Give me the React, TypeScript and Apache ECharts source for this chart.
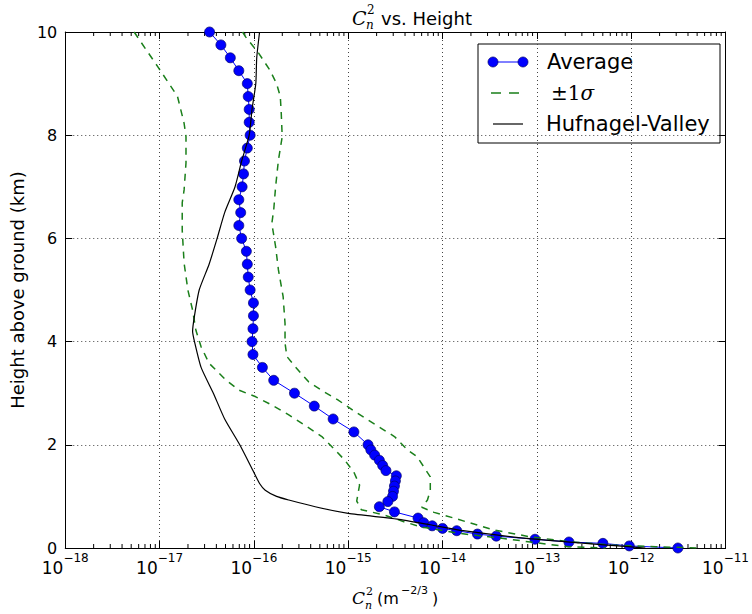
import React, { useEffect, useRef } from "react";
import * as echarts from "echarts";

// ---- Data (heights in km, values as log10 of Cn^2 in m^-2/3) ----
const avgHeight = [10, 9.75, 9.5, 9.25, 9.0, 8.75, 8.5, 8.25, 8.0, 7.75, 7.5, 7.25, 7.0, 6.75, 6.5, 6.25, 6.0, 5.75, 5.5, 5.25, 5.0, 4.75, 4.5, 4.25, 4.0, 3.75, 3.5, 3.25, 3.0, 2.75, 2.5, 2.25, 2.0, 1.9, 1.8, 1.7, 1.6, 1.5, 1.4, 1.3, 1.2, 1.1, 1.0, 0.9, 0.8, 0.7, 0.58, 0.49, 0.43, 0.38, 0.335, 0.27, 0.23, 0.17, 0.116, 0.09, 0.04, 0.0];
const avgLog = [-16.47, -16.35, -16.25, -16.16, -16.07, -16.06, -16.05, -16.05, -16.04, -16.07, -16.10, -16.11, -16.125, -16.16, -16.14, -16.16, -16.13, -16.08, -16.07, -16.06, -16.04, -16.005, -16.005, -16.01, -16.02, -16.01, -15.91, -15.79, -15.57, -15.36, -15.16, -14.94, -14.79, -14.76, -14.72, -14.67, -14.635, -14.60, -14.49, -14.50, -14.51, -14.52, -14.53, -14.58, -14.67, -14.51, -14.26, -14.20, -14.11, -14.00, -13.85, -13.63, -13.43, -13.02, -12.66, -12.30, -12.02, -11.505];

const upperHeight = [10.0, 9.91, 9.59, 9.26, 9.0, 8.75, 8.42, 7.97, 7.52, 7.0, 6.55, 6.29, 5.84, 5.39, 4.87, 4.35, 3.97, 3.71, 3.51, 3.22, 3.02, 2.87, 2.67, 2.48, 2.32, 2.16, 1.9, 1.77, 1.38, 1.12, 0.93, 0.79, 0.69, 0.58, 0.35, 0.22, 0.12, 0.06, 0.025, 0];
const upperLog = [-16.12, -16.09, -15.95, -15.83, -15.76, -15.72, -15.71, -15.70, -15.74, -15.77, -15.79, -15.81, -15.77, -15.74, -15.69, -15.67, -15.67, -15.65, -15.56, -15.42, -15.25, -15.11, -14.95, -14.79, -14.65, -14.51, -14.37, -14.27, -14.13, -14.13, -14.16, -14.22, -14.09, -13.88, -13.46, -13.08, -12.65, -12.20, -11.74, -11.27];

const lowerHeight = [10, 9.65, 9.33, 9.0, 8.75, 8.23, 7.97, 7.46, 6.94, 6.69, 6.16, 5.52, 5.0, 4.61, 4.22, 3.9, 3.58, 3.26, 3.06, 2.93, 2.77, 2.58, 2.38, 2.16, 1.9, 1.71, 1.47, 1.22, 0.91, 0.74, 0.7, 0.64, 0.51, 0.41, 0.29, 0.17, 0.1, 0.025, 0];
const lowerLog = [-17.27, -17.14, -17.02, -16.9, -16.81, -16.74, -16.72, -16.72, -16.74, -16.76, -16.76, -16.74, -16.7, -16.65, -16.615, -16.56, -16.475, -16.3, -16.16, -15.98, -15.81, -15.63, -15.46, -15.28, -15.14, -15.04, -14.94, -14.88, -14.91, -14.86, -14.76, -14.62, -14.41, -14.23, -13.85, -13.29, -13.005, -12.66, -12.27];

const hvHeight = [10, 9.5, 9.0, 8.5, 8.0, 7.5, 7.0, 6.5, 6.0, 5.5, 5.0, 4.5, 4.2, 4.0, 3.5, 3.0, 2.5, 2.0, 1.5, 1.25, 1.12, 1.0, 0.93, 0.8, 0.67, 0.56, 0.45, 0.335, 0.18, 0.1, 0.025, 0];
const hvLog = [-15.94, -15.97, -15.98, -16.02, -16.05, -16.13, -16.2, -16.31, -16.39, -16.475, -16.58, -16.63, -16.65, -16.63, -16.56, -16.43, -16.31, -16.15, -16.01, -15.94, -15.88, -15.76, -15.63, -15.35, -15.0, -14.48, -14.13, -13.78, -13.08, -12.55, -12.03, -11.85];

// ---- Axis settings ----
const xMinExp = -18;
const xMaxExp = -11;
const yMin = 0;
const yMax = 10;
const yInterval = 2;
const minorDecades = [-18, -17, -16, -15, -14, -13, -12];
const minorMultipliers = [2, 3, 4, 5, 6, 7, 8, 9];

const SANS = "DejaVu Sans";
const SERIF = "DejaVu Serif";

const toPairs = (hs: number[], logs: number[]) =>
  hs.map((h, i) => [Math.pow(10, logs[i]), h]);

export default function App() {
  const ref = useRef<HTMLDivElement>(null);

  useEffect(() => {
    if (!ref.current) return;
    const chart = echarts.init(ref.current, null, { renderer: "svg" });

    const minorValues: number[][] = [];
    minorDecades.forEach((d) =>
      minorMultipliers.forEach((m) => minorValues.push([m * Math.pow(10, d), 0]))
    );

    const xLabelFormatter = (v: number) => {
      const e = Math.round(Math.log10(v));
      return "{b|10}{s|" + (e < 0 ? "\u2212" + Math.abs(e) : String(e)) + "}";
    };

    const axisLineStyle = { color: "#000", width: 1 };

    const option: any = {
      animation: false,
      backgroundColor: "#fff",
      grid: { left: 65, right: 21, top: 32, bottom: 66, containLabel: false },
      xAxis: [
        {
          type: "log",
          logBase: 10,
          min: Math.pow(10, xMinExp),
          max: Math.pow(10, xMaxExp),
          splitNumber: 7,
          position: "bottom",
          axisLine: { show: true, onZero: false, lineStyle: axisLineStyle },
          axisTick: { show: true, inside: true, length: 7, lineStyle: axisLineStyle },
          axisLabel: {
            show: true,
            margin: 4,
            formatter: xLabelFormatter,
            rich: {
              b: { fontSize: 17, fontFamily: SANS, color: "#000", lineHeight: 24, verticalAlign: "bottom" },
              s: { fontSize: 12, fontFamily: SANS, color: "#000", lineHeight: 10, verticalAlign: "top" },
            },
          },
          splitLine: { show: true, lineStyle: { color: "#444", width: 1, type: [1, 3] } },
          minorTick: { show: false },
        },
        {
          type: "log",
          logBase: 10,
          min: Math.pow(10, xMinExp),
          max: Math.pow(10, xMaxExp),
          splitNumber: 7,
          position: "top",
          axisLine: { show: true, onZero: false, lineStyle: axisLineStyle },
          axisTick: { show: true, inside: true, length: 7, lineStyle: axisLineStyle },
          axisLabel: { show: false },
          splitLine: { show: false },
        },
      ],
      yAxis: [
        {
          type: "value",
          min: yMin,
          max: yMax,
          interval: yInterval,
          position: "left",
          name: "Height above ground (km)",
          nameLocation: "middle",
          nameRotate: 90,
          nameGap: 38,
          nameTextStyle: { fontFamily: SANS, fontSize: 18, color: "#000" },
          axisLine: { show: true, onZero: false, lineStyle: axisLineStyle },
          axisTick: { show: true, inside: true, length: 7, lineStyle: axisLineStyle },
          axisLabel: { show: true, margin: 8, fontFamily: SANS, fontSize: 16, color: "#000" },
          splitLine: { show: true, lineStyle: { color: "#444", width: 1, type: [1, 3] } },
        },
        {
          type: "value",
          min: yMin,
          max: yMax,
          interval: yInterval,
          position: "right",
          axisLine: { show: true, onZero: false, lineStyle: axisLineStyle },
          axisTick: { show: true, inside: true, length: 7, lineStyle: axisLineStyle },
          axisLabel: { show: false },
          splitLine: { show: false },
        },
      ],
      series: [
        {
          type: "custom",
          name: "minorTicks",
          xAxisIndex: 0,
          yAxisIndex: 0,
          silent: true,
          clip: false,
          data: minorValues,
          renderItem: (params: any, api: any) => {
            const v = api.value(0);
            const b = api.coord([v, yMin]);
            const t = api.coord([v, yMax]);
            return {
              type: "group",
              children: [
                { type: "line", shape: { x1: b[0], y1: b[1], x2: b[0], y2: b[1] - 4 }, style: { stroke: "#000", lineWidth: 1 } },
                { type: "line", shape: { x1: t[0], y1: t[1], x2: t[0], y2: t[1] + 4 }, style: { stroke: "#000", lineWidth: 1 } },
              ],
            };
          },
        },
        {
          type: "line",
          name: "Average",
          data: toPairs(avgHeight, avgLog),
          symbol: "circle",
          symbolSize: 10,
          showSymbol: true,
          lineStyle: { color: "#0000ff", width: 1 },
          itemStyle: { color: "#0000ff", borderColor: "#00006a", borderWidth: 0.7 },
          z: 3,
        },
        {
          type: "line",
          name: "+1sigma",
          data: toPairs(upperHeight, upperLog),
          showSymbol: false,
          symbol: "none",
          lineStyle: { color: "#1a7f1a", width: 1.5, type: [7, 6] },
          z: 4,
        },
        {
          type: "line",
          name: "-1sigma",
          data: toPairs(lowerHeight, lowerLog),
          showSymbol: false,
          symbol: "none",
          lineStyle: { color: "#1a7f1a", width: 1.5, type: [7, 6] },
          z: 4,
        },
        {
          type: "line",
          name: "Hufnagel-Valley",
          data: toPairs(hvHeight, hvLog),
          showSymbol: false,
          symbol: "none",
          smooth: 0.2,
          lineStyle: { color: "#000", width: 1.2 },
          z: 5,
        },
      ],
      graphic: [
        // Title
        { type: "text", x: 352, y: 18, style: { text: "C", font: "italic 19px " + SERIF, fill: "#000", verticalAlign: "middle" } },
        { type: "text", x: 367, y: 10, style: { text: "2", font: "12px " + SERIF, fill: "#000", verticalAlign: "middle" } },
        { type: "text", x: 366, y: 25, style: { text: "n", font: "italic 12px " + SERIF, fill: "#000", verticalAlign: "middle" } },
        { type: "text", x: 381, y: 18, style: { text: "vs. Height", font: "18px " + SANS, fill: "#000", verticalAlign: "middle" } },
        // X axis name
        { type: "text", x: 352, y: 598, style: { text: "C", font: "italic 17px " + SERIF, fill: "#000", verticalAlign: "middle" } },
        { type: "text", x: 366, y: 591, style: { text: "2", font: "11px " + SERIF, fill: "#000", verticalAlign: "middle" } },
        { type: "text", x: 365, y: 605, style: { text: "n", font: "italic 11px " + SERIF, fill: "#000", verticalAlign: "middle" } },
        { type: "text", x: 377, y: 598, style: { text: "(m", font: "16px " + SANS, fill: "#000", verticalAlign: "middle" } },
        { type: "text", x: 401, y: 590, style: { text: "\u22122/3", font: "11px " + SANS, fill: "#000", verticalAlign: "middle" } },
        { type: "text", x: 432, y: 598, style: { text: ")", font: "16px " + SANS, fill: "#000", verticalAlign: "middle" } },
        // Legend
        {
          type: "group",
          z: 100,
          children: [
            { type: "rect", shape: { x: 478, y: 44, width: 242, height: 99 }, style: { fill: "#fff", stroke: "#000", lineWidth: 1 } },
            { type: "line", shape: { x1: 493, y1: 62, x2: 523, y2: 62 }, style: { stroke: "#0000ff", lineWidth: 1 } },
            { type: "circle", shape: { cx: 493, cy: 62, r: 5 }, style: { fill: "#0000ff", stroke: "#00006a", lineWidth: 0.7 } },
            { type: "circle", shape: { cx: 523, cy: 62, r: 5 }, style: { fill: "#0000ff", stroke: "#00006a", lineWidth: 0.7 } },
            { type: "text", x: 547, y: 62, style: { text: "Average", font: "21px " + SANS, fill: "#000", verticalAlign: "middle" } },
            { type: "line", shape: { x1: 491, y1: 93, x2: 521, y2: 93 }, style: { stroke: "#1a7f1a", lineWidth: 1.5, lineDash: [10, 8] } },
            {
              type: "text",
              x: 551,
              y: 93,
              style: {
                text: "{a|\u00b11}{b|\u03c3}",
                verticalAlign: "middle",
                rich: {
                  a: { fontFamily: SERIF, fontSize: 20, fill: "#000", color: "#000" },
                  b: { fontFamily: SERIF, fontSize: 20, fontStyle: "italic", fill: "#000", color: "#000" },
                },
              },
            },
            { type: "line", shape: { x1: 493, y1: 124, x2: 523, y2: 124 }, style: { stroke: "#000", lineWidth: 1.2 } },
            { type: "text", x: 546, y: 124, style: { text: "Hufnagel-Valley", font: "21px " + SANS, fill: "#000", verticalAlign: "middle" } },
          ],
        },
      ],
    };

    chart.setOption(option);
    return () => chart.dispose();
  }, []);

  return <div ref={ref} style={{ width: 752, height: 614, position: "absolute", left: 0, top: 0, background: "#fff" }} />;
}
